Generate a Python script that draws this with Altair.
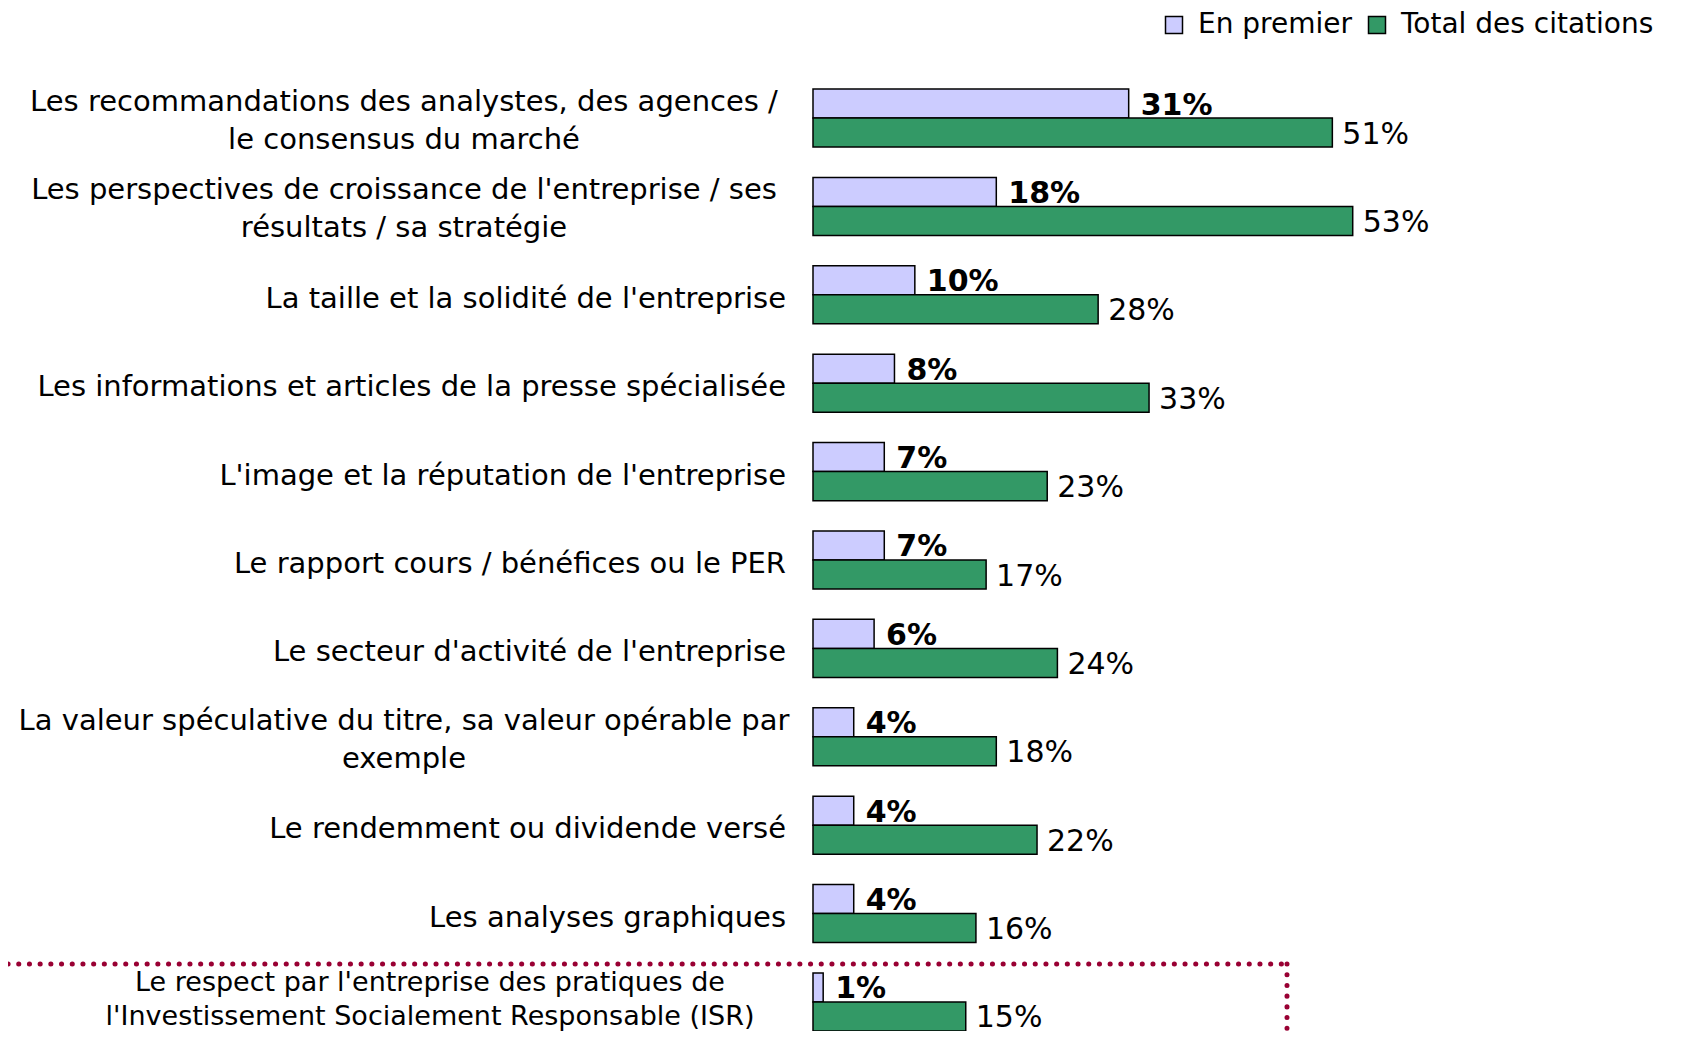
import altair as alt
import pandas as pd

categories = [
    "Les recommandations des analystes, des agences /\nle consensus du marché",
    "Les perspectives de croissance de l'entreprise / ses\nrésultats / sa stratégie",
    "La taille et la solidité de l'entreprise",
    "Les informations et articles de la presse spécialisée",
    "L'image et la réputation de l'entreprise",
    "Le rapport cours / bénéfices ou le PER",
    "Le secteur d'activité de l'entreprise",
    "La valeur spéculative du titre, sa valeur opérable par\nexemple",
    "Le rendemment ou dividende versé",
    "Les analyses graphiques",
    "Le respect par l'entreprise des pratiques de\nl'Investissement Socialement Responsable (ISR)",
]
en_premier = [31, 18, 10, 8, 7, 7, 6, 4, 4, 4, 1]
total_citations = [51, 53, 28, 33, 23, 17, 24, 18, 22, 16, 15]
series = ["En premier", "Total des citations"]
colors = ["#CCCCFF", "#339966"]

rows = []
for i, c in enumerate(categories):
    rows.append({"cat": c, "idx": i, "series": series[0], "value": en_premier[i]})
    rows.append({"cat": c, "idx": i, "series": series[1], "value": total_citations[i]})
df = pd.DataFrame(rows)

FONT = "DejaVu Sans"
LAB_SIZE = 29
PCT_SIZE = 30

y_enc = alt.Y("cat:N", sort=categories,
              scale=alt.Scale(paddingInner=0.343, paddingOuter=0), axis=None)
yoff_enc = alt.YOffset("series:N", sort=series,
                       scale=alt.Scale(domain=series, paddingInner=0, paddingOuter=0))
x_enc = alt.X("value:Q", scale=alt.Scale(domain=[0, 60]), axis=None)

base = alt.Chart(df).transform_calculate(lbl="datum.value + '%'")

bars = base.mark_bar(stroke="black", strokeWidth=1.5).encode(
    y=y_enc, yOffset=yoff_enc, x=x_enc,
    color=alt.Color("series:N", sort=series,
                    scale=alt.Scale(domain=series, range=colors),
                    legend=alt.Legend(title=None, orient="none", direction="horizontal",
                                      legendX=347, legendY=-78, padding=0,
                                      symbolType="square", symbolSize=289,
                                      symbolStrokeColor="black", symbolStrokeWidth=1.5,
                                      labelFont=FONT, labelFontSize=28, labelColor="black",
                                      labelLimit=600, labelOffset=10, columnPadding=10)),
)

pct_bold = base.transform_filter(alt.datum.series == series[0]).mark_text(
    align="left", baseline="middle", dx=12, dy=2, font=FONT, fontSize=PCT_SIZE,
    fontWeight="bold", color="black"
).encode(y=y_enc, yOffset=yoff_enc, x=x_enc, text="lbl:N")

pct_norm = base.transform_filter(alt.datum.series == series[1]).mark_text(
    align="left", baseline="middle", dx=10, dy=2, font=FONT, fontSize=PCT_SIZE,
    color="black"
).encode(y=y_enc, yOffset=yoff_enc, x=x_enc, text="lbl:N")

lab_base = base.transform_filter(alt.datum.series == series[0])

lab_single = lab_base.transform_filter("indexof(datum.cat, '\\n') < 0").mark_text(
    align="right", baseline="middle", dy=4, font=FONT, fontSize=LAB_SIZE, color="black",
    lineBreak="\n"
).encode(y=y_enc, x=alt.value(-27), text="cat:N")

lab_multi = lab_base.transform_filter(
    "indexof(datum.cat, '\\n') >= 0 && datum.idx < 10").mark_text(
    align="center", baseline="middle", dy=-16, font=FONT, fontSize=LAB_SIZE, color="black",
    lineBreak="\n", lineHeight=38
).encode(y=y_enc, x=alt.value(-409), text="cat:N")

lab_last = lab_base.transform_filter("datum.idx == 10").mark_text(
    align="center", baseline="middle", dy=-19, font=FONT, fontSize=27, color="black",
    lineBreak="\n", lineHeight=34
).encode(y=y_enc, x=alt.value(-383), text="cat:N")

box_df = pd.DataFrame({"k": [0]})
dot_style = dict(color="#990033", strokeWidth=5, strokeCap="round", strokeDash=[0.1, 10.6])
box_top = alt.Chart(box_df).mark_rule(**dot_style).encode(
    x=alt.value(-805), x2=alt.value(474), y=alt.value(875))
box_right = alt.Chart(box_df).mark_rule(**dot_style).encode(
    x=alt.value(474), y=alt.value(875), y2=alt.value(990))

chart = alt.layer(
    box_top, box_right, bars, pct_bold, pct_norm, lab_single, lab_multi, lab_last
).properties(
    width=611, height=942,
    autosize=alt.AutoSizeParams(type="none"),
    padding={"left": 805, "top": 81, "right": 250, "bottom": 0},
    background="white",
).configure_view(stroke=None)

chart.save("out.html", embed_options={"renderer": "svg", "actions": False})
